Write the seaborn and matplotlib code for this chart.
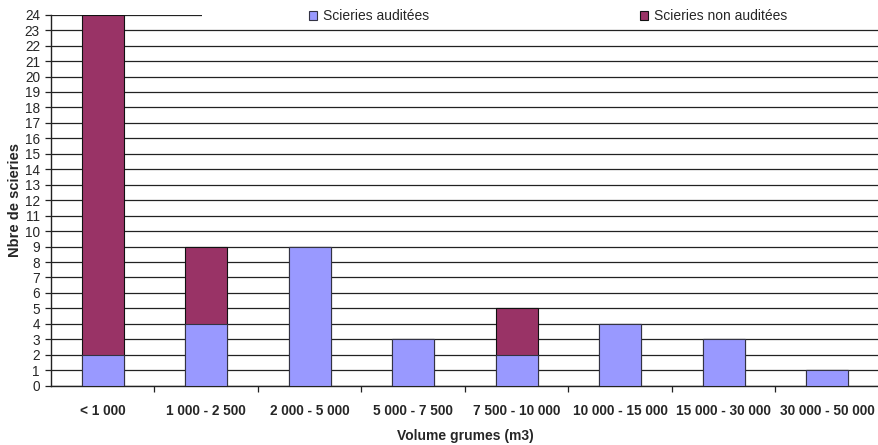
import matplotlib
matplotlib.use("Agg")
import matplotlib.pyplot as plt
import seaborn as sns
import pandas as pd
from matplotlib.patches import Patch, Rectangle

categories = ["< 1 000", "1 000 - 2 500", "2 000 - 5 000", "5 000 - 7 500",
              "7 500 - 10 000", "10 000 - 15 000", "15 000 - 30 000", "30 000 - 50 000"]
audited = [2, 4, 9, 3, 2, 4, 3, 1]
non_audited = [22, 5, 0, 0, 3, 0, 0, 0]
yticks = list(range(0, 25))

sns.set_theme(style="white")
plt.rcParams['font.family'] = ['Liberation Sans', 'DejaVu Sans']

blue = "#9999FF"
maroon = "#993366"

df = pd.DataFrame({"cat": categories, "aud": audited,
                   "tot": [a + n for a, n in zip(audited, non_audited)]})

fig = plt.figure(figsize=(8.79, 4.45), dpi=100)
ax = fig.add_axes([51 / 879, 1 - 385.7 / 445, 1 - 51 / 879, (385.7 - 14.7) / 445])

sns.barplot(data=df, x="cat", y="tot", color=maroon, saturation=1, width=0.41,
            edgecolor="#111111", linewidth=0.8, ax=ax, zorder=3)
sns.barplot(data=df, x="cat", y="aud", color=blue, saturation=1, width=0.41,
            edgecolor="#333344", linewidth=0.8, ax=ax, zorder=3)

ax.set_ylim(0, 24)
ax.set_xlim(-0.5, len(categories) - 0.5)
ax.set_yticks(yticks)
ax.set_yticklabels([str(v) for v in yticks], fontsize=9.8)
ax.yaxis.grid(True, color="#222222", linewidth=0.9, zorder=0)
ax.xaxis.grid(False)
ax.set_axisbelow(True)

ax.set_xticks(range(len(categories)))
ax.set_xticklabels(categories, fontsize=9.8, fontweight="bold")
ax.tick_params(axis="x", which="major", length=0, pad=13)
ax.set_xticks([i + 0.5 for i in range(len(categories))], minor=True)
ax.tick_params(axis="x", which="minor", length=4, width=0.9, color="#222222", direction="out", bottom=True)
ax.tick_params(axis="y", which="major", length=4, width=0.9, color="#222222", direction="out", left=True, pad=4)

for s in ["top", "right"]:
    ax.spines[s].set_visible(False)
for s in ["left", "bottom"]:
    ax.spines[s].set_color("#222222")
    ax.spines[s].set_linewidth(1.0)

ax.set_xlabel("Volume grumes (m3)", fontsize=10, fontweight="bold", labelpad=8)
ax.set_ylabel("Nbre de scieries", fontsize=10.5, fontweight="bold", labelpad=2)

# white box behind legend covering top gridline
rect = Rectangle((202 / 879, 1 - 23 / 445), 1 - 202 / 879, 23 / 445, transform=fig.transFigure,
                 facecolor="white", edgecolor="none", zorder=4, clip_on=False)
fig.patches.append(rect)

handles = [Patch(facecolor=blue, edgecolor="#333344", linewidth=0.8, label="Scieries auditées"),
           Patch(facecolor=maroon, edgecolor="#111111", linewidth=0.8, label="Scieries non auditées")]
leg = fig.legend(handles=handles, loc="upper left", bbox_to_anchor=(309 / 879, 1 - 9 / 445),
                 ncol=2, frameon=False, fontsize=10, handlelength=0.6, handleheight=0.6,
                 handletextpad=0.4, columnspacing=15.2, borderpad=0, borderaxespad=0)
leg.set_zorder(5)

fig.savefig("out.png", dpi=100)
